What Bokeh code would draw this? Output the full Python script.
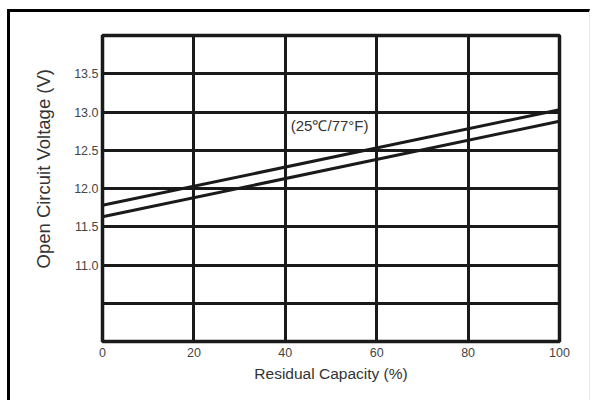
from bokeh.embed import file_html
from bokeh.models import FixedTicker, Label, Range1d, Title
from bokeh.plotting import figure
from bokeh.resources import INLINE

# Residual capacity (%) and open circuit voltage (V) at 25°C / 77°F
capacity = [0, 100]
voltage_upper = [11.78, 13.03]
voltage_lower = [11.63, 12.88]

x_ticks = [0, 20, 40, 60, 80, 100]
y_label_ticks = [11.0, 11.5, 12.0, 12.5, 13.0, 13.5]
y_grid_ticks = [10.5, 11.0, 11.5, 12.0, 12.5, 13.0, 13.5]

curve_note = "(25℃/77°F)"
x_title = "Residual Capacity (%)"
y_title = "Open Circuit Voltage (V)"

FONT = "Liberation Sans"
INK = "#1a1a1a"

p = figure(
    width=583,
    height=391,
    output_backend="svg",
    toolbar_location=None,
    x_range=Range1d(0, 100),
    y_range=Range1d(10.0, 14.0),
    min_border_left=92,
    min_border_right=34,
    min_border_top=23,
    min_border_bottom=62,
    background_fill_color="white",
    border_fill_color="white",
)
# page border: heavy on the top and left edges, faint on the right
p.styles = {
    "margin-left": "7px",
    "margin-top": "9px",
    "border-left": "3px solid #000000",
    "border-top": "3px solid #000000",
    "border-right": "1px solid #e6e6e6",
}

# frame and grid
p.outline_line_color = INK
p.outline_line_width = 3.5
p.xgrid.ticker = FixedTicker(ticks=x_ticks[1:-1])
p.ygrid.ticker = FixedTicker(ticks=y_grid_ticks)
for g in (p.xgrid, p.ygrid):
    g.grid_line_color = INK
    g.grid_line_width = 3
    g.grid_line_alpha = 1.0

# axes: labels only, no lines or ticks
p.xaxis.ticker = FixedTicker(ticks=x_ticks)
p.yaxis.ticker = FixedTicker(ticks=y_label_ticks)
p.yaxis.major_label_overrides = {t: f"{t:.1f}" for t in y_label_ticks}
for ax in (p.xaxis, p.yaxis):
    ax.axis_line_color = None
    ax.major_tick_line_color = None
    ax.minor_tick_line_color = None
    ax.major_tick_out = 0
    ax.major_tick_in = 0
    ax.major_label_text_font = FONT
    ax.major_label_text_font_size = "12.5px"
    ax.major_label_text_color = "#444444"
p.xaxis.major_label_standoff = 6
p.yaxis.major_label_standoff = 4

p.xaxis.axis_label = x_title
p.xaxis.axis_label_text_font = FONT
p.xaxis.axis_label_text_font_size = "15.5px"
p.xaxis.axis_label_text_font_style = "normal"
p.xaxis.axis_label_text_color = "#333333"
p.xaxis.axis_label_standoff = 5

# vertical axis title, starting a little above the frame's bottom
p.add_layout(Title(
    text=y_title, align="left", offset=73, standoff=35,
    text_font=FONT, text_font_size="18.5px", text_font_style="normal",
    text_color="#333333",
), "left")

# voltage curves
p.line(capacity, voltage_upper, line_color=INK, line_width=3)
p.line(capacity, voltage_lower, line_color=INK, line_width=3)

p.add_layout(Label(
    x=49.7, y=12.82, text=curve_note,
    text_font=FONT, text_font_size="15px", text_color="#333333",
    text_align="center", text_baseline="middle",
))

open("out.html", "w").write(file_html(p, INLINE))
